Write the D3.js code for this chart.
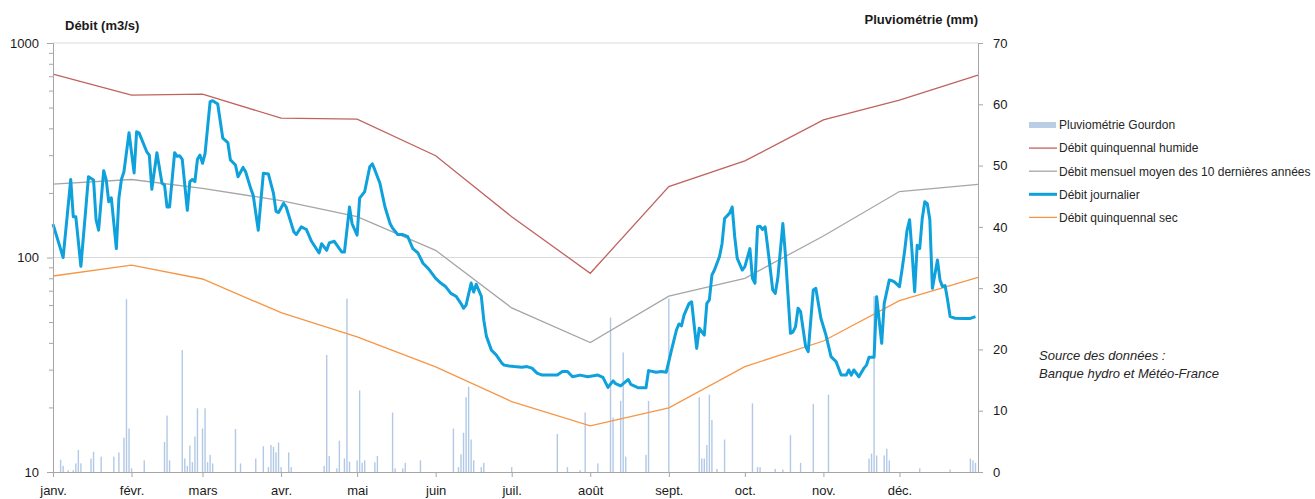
<!DOCTYPE html>
<html>
<head>
<meta charset="utf-8">
<script src="https://cdn.jsdelivr.net/npm/d3@7"></script>
<style>
  html, body { margin: 0; padding: 0; background: #fff; }
  svg { display: block; font-family: "Liberation Sans", Arial, sans-serif; }
</style>
</head>
<body>
<svg id="chart" width="1315" height="499"></svg>
<script>
// Month labels (axis at the first day of each month)
const monthLabels = ["janv.", "févr.", "mars", "avr.", "mai", "juin", "juil.", "août", "sept.", "oct.", "nov.", "déc."];

// Monthly reference flows (m3/s), 1st of each month + 1st of next January
const debitHumide = [716, 572, 578, 446, 442, 298, 155, 84.4, 214, 282, 438, 542, 709];
const debitMoyen  = [220, 231, 210, 184, 155, 108, 58.2, 40.1, 66.1, 80, 126, 203, 219];
const debitSec    = [82, 92.2, 79.4, 55.3, 42.7, 30.9, 21.3, 16.4, 19.9, 31, 40.8, 62.9, 80.8];

// Daily flow (m3/s): day of year (0 = 1 Jan) and value
const dailyDay = [0,4,7,8,9,11,13,14,16,17,18,20,21,22,23,25,26,27,28,30,32,33,34,37,38,39,41,43,44,45,46,48,49,50,51,53,54,55,56,57,58,59,60,62,63,65,67,69,70,72,73,75,76,78,79,81,83,85,87,88,89,91,92,95,96,98,100,102,105,106,108,109,111,113,114,115,117,118,120,121,123,125,126,127,129,131,133,134,136,138,140,142,144,146,148,149,151,153,155,157,159,161,162,163,165,166,167,169,170,171,173,175,177,178,180,182,185,187,189,191,193,197,199,201,203,205,208,211,215,217,219,221,222,224,227,228,231,234,235,238,240,242,244,246,247,248,249,251,252,254,255,257,258,259,260,261,263,264,265,267,268,269,270,272,273,275,276,277,278,279,280,281,282,284,285,286,288,289,291,292,293,294,295,297,298,300,301,303,305,307,309,311,313,314,315,316,318,320,321,322,324,325,326,327,328,330,331,332,334,335,336,337,338,339,340,341,342,343,344,345,346,347,349,350,351,352,353,354,356,359,362,364];
const dailyFlow = [143,100,231,155,155,91,172,238,230,150,134,254,230,182,190,110,189,231,251,382,248,386,380,311,300,208,308,222,218,172,172,308,296,298,287,166,226,231,226,287,300,275,305,533,538,520,360,343,285,270,238,263,251,210,195,134,247,245,199,164,162,179,172,132,128,139,135,119,105,116,108,117,119,110,106,106,172,144,127,189,203,265,273,256,222,172,144,137,128,128,125,110,105,94,89,86,80,76,73,68,66,61,58,60,76,69,75,66,51,43,37,35,32.3,31.5,31.2,31,30.8,31,30.5,28.9,28.3,28.3,28.3,29.4,29.4,27.8,28.3,27.8,28.3,27.6,24.8,26.6,25.8,25.2,27,25.6,24.7,24.7,29.7,29.2,29.4,29.2,36.8,45.9,49,48,53.9,61.1,62.2,37.7,46.8,43.5,61.1,63.4,82.8,87.4,101,116,152,161,172,125,99,87.4,90.6,110,80,75.9,139,140,135,139,112,70.6,68,80,144,103,44.3,45,47.6,58,55.9,38.4,36.4,70.6,71.8,52.1,43.5,34.5,32.7,28.3,28.3,29.9,28.3,29.9,27.8,30.5,31.5,34.3,34.3,65.7,51.1,39.8,61.1,78.6,78,77,73.1,87.4,106,134,150,105,69.3,114,110,152,182,178,150,71.8,97.3,78.6,73.1,74,63.4,53,52.1,52,52,53];

// Daily rainfall at Gourdon (mm): day of year and value
const rainDay = [3,4,6,8,9,10,11,15,16,19,24,26,28,29,30,31,36,44,45,46,51,52,53,54,55,56,57,59,60,61,62,63,72,74,80,83,85,86,87,88,89,90,93,94,107,108,109,112,113,115,116,117,120,121,122,123,127,128,134,135,138,139,145,158,160,161,162,163,164,165,166,169,170,181,199,203,208,210,215,220,221,224,225,226,234,235,243,255,256,257,258,259,260,262,265,276,278,279,285,288,291,295,300,306,322,323,324,325,328,329,330,342,354,362,363,364];
const rainMm  = [2.0,1.0,0.3,0.3,1.4,3.6,1.4,2.2,3.3,2.5,2.5,3.2,5.6,28.2,7.1,0.6,1.9,4.9,9.2,1.9,19.9,2.2,1.0,4.3,1.6,5.8,10.4,7.1,10.4,1.6,2.8,1.4,7.0,1.4,2.2,4.2,0.8,4.4,4.1,3.2,4.8,0.8,3.2,0.8,1.0,19.1,2.6,0.6,5.1,2.2,28.3,1.7,1.9,13.3,1.5,1.9,1.6,2.6,9.7,0.6,0.6,1.5,1.9,7.1,0.8,2.9,6.4,12.2,13.9,5.3,1.9,0.8,1.5,0.8,6.2,0.8,0.3,9.7,1.4,25.2,8.9,11.6,19.5,2.5,2.8,11.6,28.3,12.2,2.2,2.2,4.4,12.6,8.5,0.5,5.3,11.2,0.8,0.8,0.5,0.4,6.0,1.5,11.1,12.6,2.2,3.0,28.7,2.7,2.7,3.8,1.9,0.6,0.4,2.2,1.9,1.5];

// Axis tick values
const flowTicks = [10, 100, 1000];
const rainTicks = [0, 10, 20, 30, 40, 50, 60, 70];

const colHumide = "#c0635f";
const colMoyen = "#a6a6a6";
const colJour = "#0ea1dc";
const colSec = "#f79646";

const legendItems = [
  { label: "Pluviométrie Gourdon", kind: "bar", color: "#b9cde5" },
  { label: "Débit quinquennal humide", kind: "line", color: colHumide, width: 1.3 },
  { label: "Débit mensuel moyen des 10 dernières années", kind: "line", color: colMoyen, width: 1.3 },
  { label: "Débit journalier", kind: "line", color: colJour, width: 3 },
  { label: "Débit quinquennal sec", kind: "line", color: colSec, width: 1.3 }
];

const svg = d3.select("#chart");
const plot = { left: 53, right: 978, top: 43, bottom: 472 };

const year = 2011;
const dayDate = d => d3.timeDay.offset(new Date(year, 0, 1), d);
const monthDates = d3.range(13).map(m => new Date(year, m, 1));

const x = d3.scaleTime().domain([new Date(year, 0, 1), new Date(year + 1, 0, 1)]).range([plot.left, plot.right]);
const yFlow = d3.scaleLog().domain([10, 1000]).range([plot.bottom, plot.top]);
const yRain = d3.scaleLinear().domain([0, 70]).range([plot.bottom, plot.top]);

// Horizontal gridlines on the decades
svg.append("g").selectAll("line").data([100, 1000]).join("line")
  .attr("x1", plot.left).attr("x2", plot.right)
  .attr("y1", d => yFlow(d)).attr("y2", d => yFlow(d))
  .attr("stroke", "#d9d9d9").attr("stroke-width", 1);

// Rainfall bars
const rain = rainDay.map((d, i) => ({ date: dayDate(d), mm: rainMm[i] }));
svg.append("g").selectAll("rect").data(rain).join("rect")
  .attr("x", d => x(d.date) - 0.7)
  .attr("width", 1.4)
  .attr("y", d => yRain(d.mm))
  .attr("height", d => yRain(0) - yRain(d.mm))
  .attr("fill", "#9fbbe0")
  .attr("opacity", 0.8);

// Monthly reference lines
const monthlyLine = d3.line().x((d, i) => x(monthDates[i])).y(d => yFlow(d));
[[debitHumide, colHumide], [debitMoyen, colMoyen], [debitSec, colSec]].forEach(([vals, col]) => {
  svg.append("path").datum(vals)
    .attr("d", monthlyLine)
    .attr("fill", "none").attr("stroke", col).attr("stroke-width", 1.3);
});

// Daily flow
const daily = dailyDay.map((d, i) => ({ date: dayDate(d), v: dailyFlow[i] }));
svg.append("path").datum(daily)
  .attr("d", d3.line().x(d => x(d.date)).y(d => yFlow(d.v)))
  .attr("fill", "none").attr("stroke", colJour).attr("stroke-width", 3)
  .attr("stroke-linejoin", "round");

// Axes
const axisColor = "#a6a6a6";
function styleAxis(g) {
  g.selectAll(".domain").attr("stroke", axisColor);
  g.selectAll(".tick line").attr("stroke", axisColor);
  g.selectAll("text").attr("fill", "#1a1a1a").attr("font-size", 13)
    .attr("font-family", "'Liberation Sans', Arial, sans-serif");
}

const minorTicks = [];
[10, 100].forEach(b => { for (let k = 2; k <= 9; k++) minorTicks.push(b * k); });

svg.append("g").attr("transform", `translate(${plot.left},0)`)
  .call(d3.axisLeft(yFlow).tickValues(minorTicks).tickSize(4).tickFormat("").tickSizeOuter(0))
  .call(styleAxis);
svg.append("g").attr("transform", `translate(${plot.left},0)`)
  .call(d3.axisLeft(yFlow).tickValues(flowTicks).tickSize(6).tickPadding(8).tickFormat(d3.format("d")).tickSizeOuter(0))
  .call(styleAxis);

svg.append("g").attr("transform", `translate(${plot.right},0)`)
  .call(d3.axisRight(yRain).tickValues(rainTicks).tickSize(5).tickPadding(10).tickSizeOuter(0))
  .call(styleAxis);

svg.append("g").attr("transform", `translate(0,${plot.bottom})`)
  .call(d3.axisBottom(x).tickValues(monthDates.slice(0, 12)).tickSize(5).tickPadding(9)
    .tickFormat((d, i) => monthLabels[i]).tickSizeOuter(0))
  .call(styleAxis);

// Axis titles
svg.append("text").attr("x", 65).attr("y", 30)
  .attr("font-size", 13).attr("font-weight", "bold").attr("fill", "#1a1a1a")
  .text("Débit (m3/s)");
svg.append("text").attr("x", 978).attr("y", 24).attr("text-anchor", "end")
  .attr("font-size", 13).attr("font-weight", "bold").attr("fill", "#1a1a1a")
  .text("Pluviométrie (mm)");

// Legend
const legend = svg.append("g").attr("transform", "translate(1029,125)");
legendItems.forEach((it, i) => {
  const g = legend.append("g").attr("transform", `translate(0,${i * 23.1})`);
  if (it.kind === "bar") {
    g.append("rect").attr("x", 0).attr("y", -3).attr("width", 27).attr("height", 6).attr("fill", it.color);
  } else {
    g.append("line").attr("x1", 0).attr("x2", 28).attr("y1", 0).attr("y2", 0)
      .attr("stroke", it.color).attr("stroke-width", it.width);
  }
  g.append("text").attr("x", 30).attr("y", 4.3).attr("font-size", 12).attr("fill", "#262626").text(it.label);
});

// Data source note
const note = svg.append("text").attr("font-size", 13).attr("font-style", "italic").attr("fill", "#262626");
note.append("tspan").attr("x", 1039).attr("y", 360).text("Source des données :");
note.append("tspan").attr("x", 1039).attr("y", 378).text("Banque hydro et Météo-France");
</script>
</body>
</html>
